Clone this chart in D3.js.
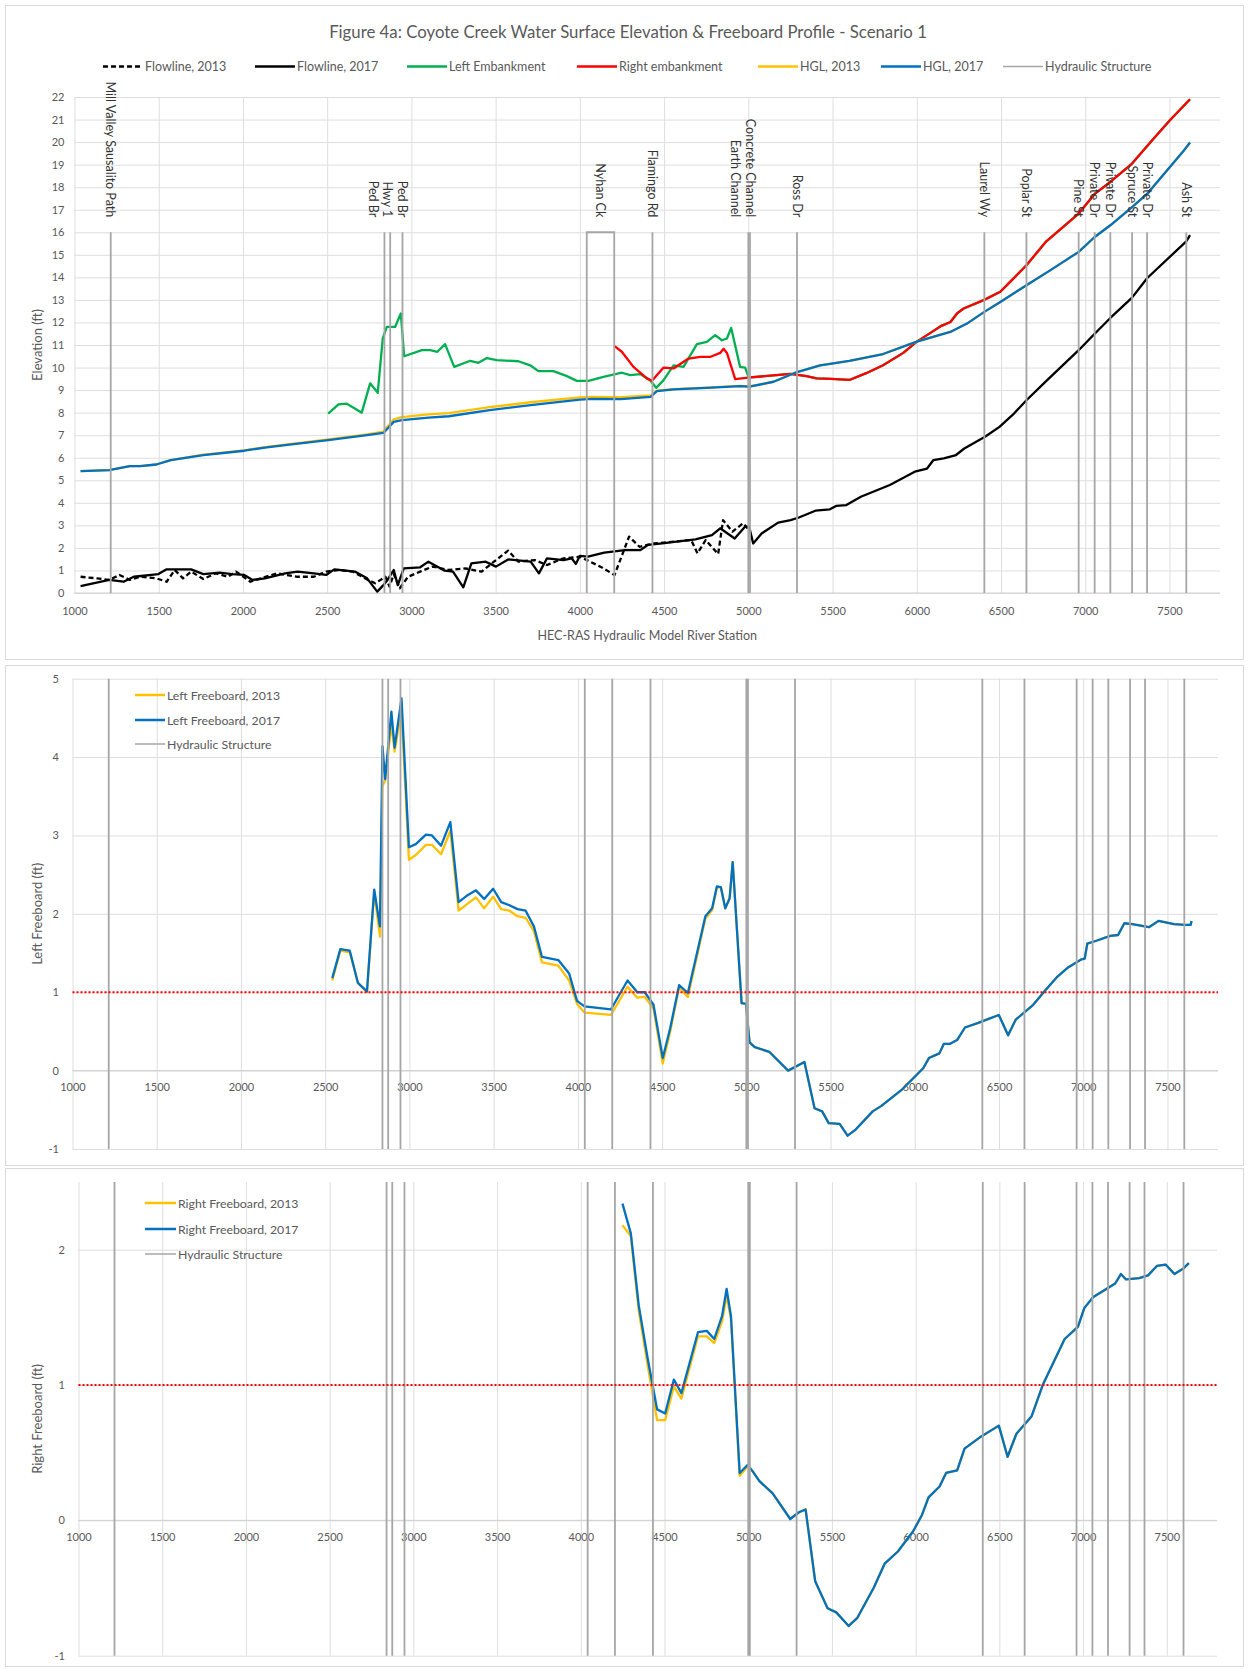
<!DOCTYPE html>
<html>
<head>
<meta charset="utf-8">
<script src="https://cdn.jsdelivr.net/npm/d3@7"></script>
<style>
body{margin:0;background:#fff;}
svg{display:block;font-family:Lato,"Open Sans",sans-serif;}
</style>
</head>
<body>
<script>
// ---- values: [river station (ft), value (ft)] ----
const flowline2013 = [[1036,0.72],[1134,0.65],[1206,0.58],[1267,0.80],[1328,0.58],[1389,0.72],[1486,0.65],[1547,0.50],[1595,1.02],[1644,0.65],[1692,0.95],[1765,0.62],[1838,0.87],[1911,0.72],[1959,0.95],[2044,0.50],[2105,0.65],[2202,0.87],[2324,0.72],[2421,0.72],[2494,0.95],[2567,1.02],[2652,0.95],[2737,0.60],[2785,0.43],[2846,0.72],[2870,0.28],[2895,0.84],[2931,0.21],[2980,0.72],[3052,0.95],[3125,1.17],[3222,1.02],[3320,1.09],[3417,0.95],[3490,1.39],[3574,1.88],[3635,1.39],[3733,1.46],[3805,1.24],[3903,1.54],[4000,1.61],[4121,1.17],[4206,0.80],[4292,2.50],[4354,2.05],[4440,2.20],[4661,2.35],[4698,1.76],[4747,2.35],[4821,1.73],[4850,3.23],[4906,2.72],[4968,3.09],[5005,2.80]];

const flowline2017 = [[1036,0.31],[1206,0.58],[1291,0.50],[1352,0.72],[1498,0.84],[1547,1.05],[1692,1.05],[1765,0.84],[1862,0.90],[1935,0.84],[2008,0.80],[2057,0.58],[2130,0.65],[2251,0.87],[2324,0.95],[2421,0.87],[2494,0.80],[2542,1.05],[2664,0.95],[2737,0.65],[2797,0.06],[2834,0.35],[2858,0.58],[2895,1.02],[2919,0.35],[2955,1.09],[3052,1.14],[3101,1.39],[3198,0.99],[3247,0.95],[3308,0.25],[3356,1.31],[3441,1.39],[3502,1.17],[3574,1.49],[3708,1.39],[3757,0.87],[3805,1.54],[3903,1.46],[3951,1.54],[3976,1.29],[4000,1.65],[4048,1.61],[4145,1.79],[4267,1.90],[4359,1.90],[4403,2.13],[4489,2.20],[4686,2.38],[4784,2.57],[4833,2.87],[4919,2.42],[4980,2.94],[5005,2.94],[5029,2.20],[5079,2.64],[5177,3.12],[5251,3.23],[5300,3.35],[5398,3.65],[5484,3.71],[5521,3.86],[5582,3.90],[5668,4.27],[5840,4.79],[5988,5.38],[6061,5.52],[6098,5.89],[6160,5.97],[6233,6.12],[6282,6.41],[6405,6.93],[6491,7.37],[6577,7.96],[6651,8.55],[6774,9.44],[6961,10.77],[7056,11.50],[7149,12.20],[7278,13.10],[7367,13.96],[7600,15.60],[7622,15.87]];

const rightEmbankment = [[4204,10.96],[4249,10.70],[4318,10.03],[4398,9.52],[4428,9.41],[4497,10.00],[4556,9.96],[4645,10.40],[4714,10.47],[4773,10.47],[4833,10.65],[4853,10.83],[4873,10.65],[4922,9.49],[5011,9.56],[5250,9.72],[5345,9.62],[5405,9.52],[5490,9.50],[5600,9.45],[5700,9.75],[5800,10.10],[5920,10.65],[6000,11.15],[6084,11.55],[6146,11.85],[6200,12.02],[6239,12.40],[6278,12.62],[6397,12.99],[6496,13.36],[6554,13.80],[6651,14.54],[6769,15.60],[6961,16.83],[7056,17.70],[7149,18.23],[7278,19.05],[7400,20.10],[7500,20.95],[7622,21.90]];

// downstream of the channel transition both embankments plot on top of each other
const leftEmbankment = [[2506,7.96],[2567,8.37],[2615,8.40],[2664,8.18],[2705,8.00],[2755,9.30],[2800,8.88],[2830,11.29],[2854,11.80],[2903,11.80],[2937,12.40],[2957,10.50],[3062,10.77],[3111,10.77],[3154,10.70],[3200,11.04],[3254,10.03],[3349,10.30],[3398,10.21],[3448,10.42],[3507,10.33],[3635,10.28],[3705,10.10],[3754,9.84],[3843,9.84],[3923,9.62],[3982,9.41],[4051,9.41],[4140,9.59],[4249,9.77],[4299,9.66],[4358,9.71],[4417,9.44],[4453,9.10],[4497,9.44],[4556,10.10],[4615,10.03],[4695,11.04],[4754,11.14],[4803,11.44],[4843,11.21],[4873,11.29],[4898,11.76],[4951,10.03],[4981,10.00],[5001,9.59]]
  .concat(rightEmbankment.filter(d => d[0] > 5001));

const hgl2017 = [[1036,5.41],[1206,5.45],[1328,5.63],[1389,5.63],[1486,5.70],[1571,5.89],[1765,6.12],[2008,6.31],[2130,6.45],[2251,6.56],[2506,6.78],[2737,7.00],[2834,7.10],[2895,7.59],[2943,7.67],[3101,7.78],[3222,7.84],[3465,8.11],[3708,8.33],[4000,8.58],[4073,8.61],[4243,8.60],[4420,8.70],[4457,8.95],[4556,9.03],[4754,9.10],[4951,9.18],[5007,9.15],[5150,9.37],[5289,9.80],[5427,10.10],[5600,10.30],[5800,10.60],[6000,11.15],[6199,11.58],[6298,11.95],[6401,12.47],[6496,12.91],[6651,13.65],[6794,14.32],[6961,15.13],[7056,15.79],[7149,16.31],[7278,17.12],[7367,17.70],[7583,19.60],[7622,19.98]];

const hgl2013 = [[1036,5.41],[1206,5.45],[1328,5.63],[1389,5.63],[1486,5.70],[1571,5.89],[1765,6.14],[2008,6.33],[2130,6.47],[2251,6.58],[2506,6.81],[2737,7.04],[2834,7.16],[2895,7.70],[2943,7.80],[3101,7.92],[3222,7.98],[3465,8.24],[3708,8.46],[4000,8.68],[4073,8.70],[4243,8.69],[4420,8.76],[4457,8.97],[4556,9.04],[4754,9.11],[4951,9.19],[5007,9.16]]
  .concat(hgl2017.filter(d => d[0] > 5007));

const leftFb2017 = [[2542,1.18],[2590,1.55],[2646,1.53],[2694,1.12],[2748,1.01],[2791,2.31],[2825,1.84],[2840,4.14],[2856,3.72],[2893,4.58],[2912,4.12],[2953,4.75],[2997,2.85],[3038,2.89],[3098,3.01],[3134,3.00],[3188,2.87],[3243,3.17],[3292,2.15],[3340,2.23],[3395,2.30],[3444,2.19],[3497,2.32],[3545,2.15],[3594,2.11],[3642,2.06],[3690,2.04],[3739,1.84],[3787,1.45],[3884,1.41],[3948,1.24],[3995,0.89],[4039,0.82],[4196,0.78],[4295,1.15],[4353,1.00],[4397,1.00],[4449,0.84],[4504,0.16],[4548,0.54],[4601,1.09],[4653,0.99],[4757,1.97],[4797,2.07],[4825,2.35],[4849,2.34],[4875,2.07],[4901,2.20],[4919,2.66],[4972,0.86],[4998,0.85],[5019,0.36],[5050,0.30],[5136,0.24],[5248,0.00],[5345,0.11],[5405,-0.48],[5450,-0.52],[5489,-0.67],[5554,-0.68],[5601,-0.83],[5645,-0.76],[5750,-0.52],[5802,-0.45],[5920,-0.25],[6050,0.03],[6084,0.16],[6146,0.22],[6172,0.34],[6207,0.34],[6251,0.39],[6298,0.55],[6377,0.61],[6499,0.71],[6554,0.45],[6599,0.65],[6703,0.84],[6769,1.01],[6847,1.20],[6912,1.32],[6990,1.42],[7009,1.43],[7024,1.62],[7082,1.66],[7160,1.72],[7207,1.73],[7244,1.88],[7291,1.87],[7390,1.83],[7447,1.91],[7539,1.87],[7604,1.86],[7638,1.86],[7643,1.91]];

const leftFb2013 = [[2542,1.15],[2590,1.53],[2646,1.51],[2694,1.12],[2748,1.00],[2791,2.28],[2825,1.71],[2840,3.63],[2856,3.70],[2893,4.42],[2912,4.07],[2953,4.60],[2997,2.69],[3038,2.75],[3098,2.88],[3134,2.88],[3188,2.76],[3243,3.06],[3292,2.04],[3340,2.12],[3395,2.21],[3444,2.07],[3497,2.22],[3545,2.06],[3594,2.04],[3642,1.97],[3690,1.95],[3739,1.78],[3787,1.38],[3884,1.34],[3948,1.15],[3995,0.85],[4039,0.74],[4196,0.71],[4295,1.07],[4353,0.93],[4397,0.94],[4449,0.79],[4504,0.09],[4548,0.50],[4601,1.06],[4653,0.94],[4757,1.94],[4797,2.05],[4825,2.33]]
  .concat(leftFb2017.filter(d => d[0] > 4825));

const rightFb2017 = [[4249,2.34],[4299,2.12],[4346,1.59],[4399,1.20],[4456,0.82],[4504,0.79],[4556,1.04],[4601,0.94],[4700,1.39],[4753,1.40],[4797,1.34],[4844,1.51],[4871,1.71],[4897,1.51],[4949,0.35],[4997,0.41],[5028,0.36],[5067,0.29],[5146,0.20],[5251,0.01],[5303,0.06],[5343,0.08],[5400,-0.45],[5474,-0.65],[5526,-0.68],[5600,-0.78],[5652,-0.72],[5749,-0.50],[5815,-0.32],[5894,-0.23],[5985,-0.08],[6038,0.04],[6077,0.17],[6143,0.25],[6182,0.35],[6248,0.37],[6292,0.53],[6392,0.62],[6497,0.70],[6549,0.47],[6602,0.64],[6693,0.77],[6759,1.00],[6890,1.34],[6969,1.43],[7008,1.57],[7061,1.65],[7139,1.71],[7192,1.75],[7226,1.82],[7257,1.78],[7336,1.79],[7388,1.81],[7441,1.88],[7493,1.89],[7546,1.82],[7598,1.86],[7632,1.90]];

const rightFb2013 = [[4249,2.18],[4299,2.10],[4346,1.55],[4399,1.15],[4456,0.74],[4504,0.74],[4556,0.99],[4601,0.90],[4700,1.36],[4753,1.36],[4797,1.31],[4844,1.47],[4871,1.66],[4897,1.49],[4949,0.33],[4997,0.40]]
  .concat(rightFb2017.filter(d => d[0] > 4997));

// hydraulic structures (river station); Nyhan Ck is drawn as a box between two stations
const structures = [
  {name:'Mill Valley Sausalito Path', x:1215},
  {name:'Ped Br', x:2840},
  {name:'Hwy 1', x:2874},
  {name:'Ped Br', x:2947},
  {name:'Nyhan Ck', x:4041, x2:4204},
  {name:'Flamingo Rd', x:4431},
  {name:'Earth Channel', x:5000},
  {name:'Concrete Channel', x:5010},
  {name:'Ross Dr', x:5289},
  {name:'Laurel Wy', x:6401},
  {name:'Poplar St', x:6651},
  {name:'Pine St', x:6961},
  {name:'Private Dr', x:7056},
  {name:'Private Dr', x:7149},
  {name:'Spruce St', x:7278},
  {name:'Private Dr', x:7367},
  {name:'Ash St', x:7600}
];
const structureTop = 16;
const freeboardTarget = 1;
const xTicks = d3.range(1000, 7501, 500);
const elevTicks = d3.range(0, 23);
const leftFbTicks = d3.range(-1, 6);
const rightFbTicks = d3.range(-1, 3);

const TXT = '#595959', GRID = '#dedede', STRUCT = '#a6a6a6';

let svg = d3.select('body').append('svg').attr('width', 1249).attr('height', 1669);

function panel(p){
    let x = d3.scaleLinear([1000, 7800], [p.left, p.right]),
        y = d3.scaleLinear(p.yDomain, [p.bottom, p.top]),
        g = svg.append('g');

    g.append('rect').attr('x', p.box[0]).attr('y', p.box[1]).attr('width', p.box[2]).attr('height', p.box[3])
        .style('fill', '#fff').style('stroke', '#d9d9d9');

    // gridlines
    g.append('g').attr('transform', `translate(${p.left},0)`)
        .call(d3.axisLeft(y).tickValues(p.yTicks).tickSize(-(p.right - p.left)).tickFormat(''))
        .call(a => a.select('.domain').remove())
        .call(a => a.selectAll('line').style('stroke', GRID));
    g.append('g').attr('transform', `translate(0,${p.bottom})`)
        .call(d3.axisBottom(x).tickValues(xTicks).tickSize(-(p.bottom - p.top)).tickFormat(''))
        .call(a => a.select('.domain').remove())
        .call(a => a.selectAll('line').style('stroke', GRID));
    g.append('line').attr('x1', p.left).attr('x2', p.right).attr('y1', y(0)).attr('y2', y(0))
        .style('stroke', '#d0d0d0');

    // tick labels
    g.append('g').attr('transform', `translate(${p.left},0)`)
        .call(d3.axisLeft(y).tickValues(p.yTicks).tickSize(0).tickPadding(p.yPad).tickFormat(d => String(d)))
        .call(a => a.select('.domain').remove())
        .attr('font-family', null).attr('font-size', null)
        .selectAll('text').style('fill', TXT).style('font-size', '11px');
    g.append('g').attr('transform', `translate(0,${y(0)})`)
        .call(d3.axisBottom(x).tickValues(xTicks).tickSize(0).tickPadding(p.xPad).tickFormat(d => String(d)))
        .call(a => a.select('.domain').remove())
        .attr('font-family', null).attr('font-size', null)
        .selectAll('text').style('fill', TXT).style('font-size', '11px');

    g.append('text').attr('transform', `translate(37,${(p.top + p.bottom) / 2}) rotate(-90)`)
        .attr('text-anchor', 'middle').attr('dominant-baseline', 'central')
        .style('fill', TXT).style('font-size', '13px').text(p.yTitle);

    return {g, x, y};
}

function drawLine(g, x, y, data, color, dash){
    let lineGen = d3.line().x(d => x(d[0])).y(d => y(d[1]));
    g.append('path').datum(data).attr('d', lineGen)
        .style('fill', 'none').style('stroke', color).style('stroke-width', '2.3px')
        .style('stroke-linejoin', 'round')
        .style('stroke-dasharray', dash || null);
}

function drawStructures(g, x, y, lo, hi, box){
    g.selectAll(null).data(structures).join('path')
        .attr('d', s => box && s.x2
            ? `M${x(s.x)},${y(lo)}V${y(hi)}H${x(s.x2)}V${y(lo)}`
            : `M${x(s.x)},${y(lo)}V${y(hi)}` + (s.x2 ? `M${x(s.x2)},${y(lo)}V${y(hi)}` : ''))
        .style('fill', 'none').style('stroke', STRUCT).style('stroke-width', '1.8px');
}

function legendRow(g, x1, x2, yy, color, dash, label, w, fs){
    g.append('line').attr('x1', x1).attr('x2', x2).attr('y1', yy).attr('y2', yy)
        .style('stroke', color).style('stroke-width', (w || 2) + 'px').style('stroke-dasharray', dash || null);
    g.append('text').attr('x', x2 + 2).attr('y', yy).attr('dominant-baseline', 'central')
        .style('fill', TXT).style('font-size', fs).text(label);
}

// ---------- panel 1 : elevation profile ----------
let p1 = panel({box:[5.5, 5.5, 1238, 654], left:74.5, right:1220, top:97, bottom:593,
    yDomain:[0, 22], yTicks:elevTicks, yPad:10, xPad:14, yTitle:'Elevation (ft)'});

p1.g.append('text').attr('x', 628).attr('y', 31).attr('text-anchor', 'middle').attr('dominant-baseline', 'central')
    .style('fill', TXT).style('font-size', '16.8px')
    .text('Figure 4a: Coyote Creek Water Surface Elevation & Freeboard Profile - Scenario 1');
p1.g.append('text').attr('x', (74.5 + 1220) / 2).attr('y', 635).attr('text-anchor', 'middle').attr('dominant-baseline', 'central')
    .style('fill', TXT).style('font-size', '12.5px').text('HEC-RAS Hydraulic Model River Station');

drawLine(p1.g, p1.x, p1.y, flowline2013, '#000', '5 3');
drawLine(p1.g, p1.x, p1.y, flowline2017, '#000');
drawLine(p1.g, p1.x, p1.y, leftEmbankment, '#00b050');
drawLine(p1.g, p1.x, p1.y, rightEmbankment, '#ff0000');
drawLine(p1.g, p1.x, p1.y, hgl2013, '#ffc000');
drawLine(p1.g, p1.x, p1.y, hgl2017, '#0070c0');
drawStructures(p1.g, p1.x, p1.y, 0, structureTop, true);

// structure names, nudged left where they would overlap
let labels = structures.map(s => ({name:s.name, px:p1.x(s.x2 ? (s.x + s.x2) / 2 : s.x)}));
for (let i = labels.length - 1; i >= 0; i--) {
    labels[i].lx = i === labels.length - 1 ? labels[i].px : Math.min(labels[i].px, labels[i + 1].lx - 14.5);
}
p1.g.selectAll(null).data(labels).join('text')
    .attr('transform', d => `translate(${d.lx},${p1.y(structureTop) - 15}) rotate(90)`)
    .attr('text-anchor', 'end').attr('dominant-baseline', 'central')
    .style('fill', '#333').style('font-size', '12.5px').text(d => d.name);

let leg = [
    [103, '#000', '5 3', 'Flowline, 2013'],
    [255, '#000', null, 'Flowline, 2017'],
    [407, '#00b050', null, 'Left Embankment'],
    [577, '#ff0000', null, 'Right embankment'],
    [758, '#ffc000', null, 'HGL, 2013'],
    [881, '#0070c0', null, 'HGL, 2017'],
    [1003, STRUCT, null, 'Hydraulic Structure']
];
leg.forEach(l => legendRow(p1.g, l[0], l[0] + 40, 66.5, l[1], l[2], l[3], l[1] === STRUCT ? 1.5 : 2.5, '12.5px'));

// ---------- panel 2 : left freeboard ----------
let p2 = panel({box:[5.5, 665.5, 1238, 500], left:72.5, right:1218, top:678.7, bottom:1149,
    yDomain:[-1, 5], yTicks:leftFbTicks, yPad:13.5, xPad:13, yTitle:'Left Freeboard (ft)'});
drawLine(p2.g, p2.x, p2.y, leftFb2013, '#ffc000');
drawLine(p2.g, p2.x, p2.y, leftFb2017, '#0070c0');
drawStructures(p2.g, p2.x, p2.y, -1, 5, false);
p2.g.append('line').attr('x1', p2.x(1000)).attr('x2', p2.x(7800)).attr('y1', p2.y(freeboardTarget)).attr('y2', p2.y(freeboardTarget))
    .style('stroke', '#ff0000').style('stroke-width', '2.2px').style('stroke-dasharray', '2 2');
legendRow(p2.g, 135, 165, 695, '#ffc000', null, 'Left Freeboard, 2013', 2.5, '12.3px');
legendRow(p2.g, 135, 165, 720, '#0070c0', null, 'Left Freeboard, 2017', 2.5, '12.3px');
legendRow(p2.g, 135, 165, 744, STRUCT, null, 'Hydraulic Structure', 1.5, '12.3px');

// ---------- panel 3 : right freeboard ----------
let p3 = panel({box:[5.5, 1168.5, 1238, 498], left:78.5, right:1217, top:1182, bottom:1655.7,
    yDomain:[-1, 2.5], yTicks:rightFbTicks, yPad:13.5, xPad:13, yTitle:'Right Freeboard (ft)'});
drawLine(p3.g, p3.x, p3.y, rightFb2013, '#ffc000');
drawLine(p3.g, p3.x, p3.y, rightFb2017, '#0070c0');
drawStructures(p3.g, p3.x, p3.y, -1, 2.5, false);
p3.g.append('line').attr('x1', p3.x(1000)).attr('x2', p3.x(7800)).attr('y1', p3.y(freeboardTarget)).attr('y2', p3.y(freeboardTarget))
    .style('stroke', '#ff0000').style('stroke-width', '2.2px').style('stroke-dasharray', '2 2');
legendRow(p3.g, 145, 176, 1203, '#ffc000', null, 'Right Freeboard, 2013', 2.5, '12.3px');
legendRow(p3.g, 145, 176, 1229, '#0070c0', null, 'Right Freeboard, 2017', 2.5, '12.3px');
legendRow(p3.g, 145, 176, 1254, STRUCT, null, 'Hydraulic Structure', 1.5, '12.3px');
</script>
</body>
</html>
